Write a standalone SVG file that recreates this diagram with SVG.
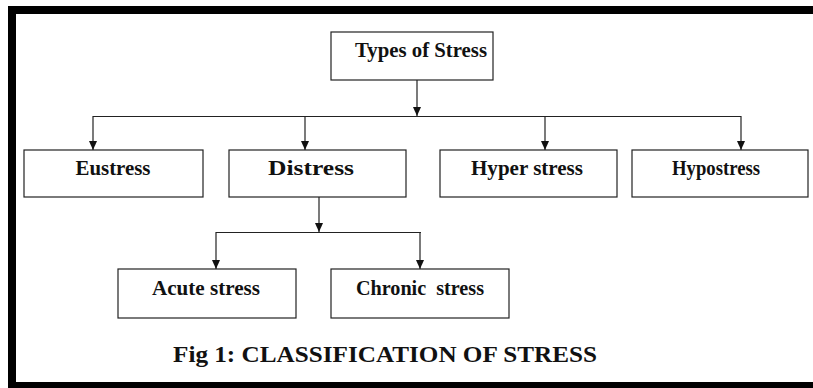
<svg xmlns="http://www.w3.org/2000/svg" width="813" height="388" viewBox="0 0 813 388">
<style>
.box{fill:#fff;stroke:#222;stroke-width:1.2}
.lbl{font-family:'Liberation Serif','Times New Roman',Times,serif;font-weight:700;font-size:20px;fill:#111;text-anchor:middle}
.con{stroke:#222;stroke-width:1.2;fill:none}
.cap{font-family:'Liberation Serif','Times New Roman',Times,serif;font-weight:700;font-size:23px;fill:#111}
</style>
<defs>
<marker id="ah" markerWidth="9" markerHeight="8" refX="9" refY="4" orient="auto" markerUnits="userSpaceOnUse" viewBox="0 0 9 8">
<path d="M0,0 L9,4 L0,8 Z" fill="#111"/>
</marker>
</defs>
<rect width="813" height="388" fill="#fff"/>
<g id="frame" fill="#000">
<rect x="8" y="6" width="805" height="8"/>
<rect x="8" y="6" width="8" height="382"/>
<rect x="8" y="382" width="805" height="6"/>
</g>
<g id="connectors">
<line class="con" x1="417" y1="80" x2="417" y2="116" marker-end="url(#ah)"/>
<line class="con" x1="93" y1="116.5" x2="741" y2="116.5"/>
<line class="con" x1="93" y1="116" x2="93" y2="150" marker-end="url(#ah)"/>
<line class="con" x1="305" y1="116" x2="305" y2="150" marker-end="url(#ah)"/>
<line class="con" x1="545" y1="116" x2="545" y2="150" marker-end="url(#ah)"/>
<line class="con" x1="741" y1="116" x2="741" y2="150" marker-end="url(#ah)"/>
<line class="con" x1="319" y1="197" x2="319" y2="232" marker-end="url(#ah)"/>
<line class="con" x1="216" y1="232.5" x2="421" y2="232.5"/>
<line class="con" x1="216" y1="232" x2="216" y2="269" marker-end="url(#ah)"/>
<line class="con" x1="420" y1="232" x2="420" y2="269" marker-end="url(#ah)"/>
</g>
<g id="types">
<rect class="box" x="331" y="32" width="162" height="48"/>
<text class="lbl" x="421" y="57" textLength="132" lengthAdjust="spacingAndGlyphs">Types of Stress</text>
</g>
<g id="eustress">
<rect class="box" x="24" y="150" width="179" height="47"/>
<text class="lbl" x="113" y="175" textLength="75" lengthAdjust="spacingAndGlyphs">Eustress</text>
</g>
<g id="distress">
<rect class="box" x="229" y="150" width="177" height="47"/>
<text class="lbl" x="311" y="175" textLength="86" lengthAdjust="spacingAndGlyphs">Distress</text>
</g>
<g id="hyper">
<rect class="box" x="440" y="150" width="177" height="47"/>
<text class="lbl" x="527" y="175" textLength="112" lengthAdjust="spacingAndGlyphs">Hyper stress</text>
</g>
<g id="hypo">
<rect class="box" x="632" y="150" width="176" height="47"/>
<text class="lbl" x="716" y="175" textLength="88" lengthAdjust="spacingAndGlyphs">Hypostress</text>
</g>
<g id="acute">
<rect class="box" x="118" y="269" width="178" height="49"/>
<text class="lbl" x="206" y="295" textLength="108" lengthAdjust="spacingAndGlyphs">Acute stress</text>
</g>
<g id="chronic">
<rect class="box" x="331" y="269" width="178" height="49"/>
<text class="lbl" x="420" y="295" textLength="128" lengthAdjust="spacingAndGlyphs" xml:space="preserve">Chronic  stress</text>
</g>
<text class="cap" x="173" y="362" textLength="424" lengthAdjust="spacingAndGlyphs">Fig 1: CLASSIFICATION OF STRESS</text>
</svg>
